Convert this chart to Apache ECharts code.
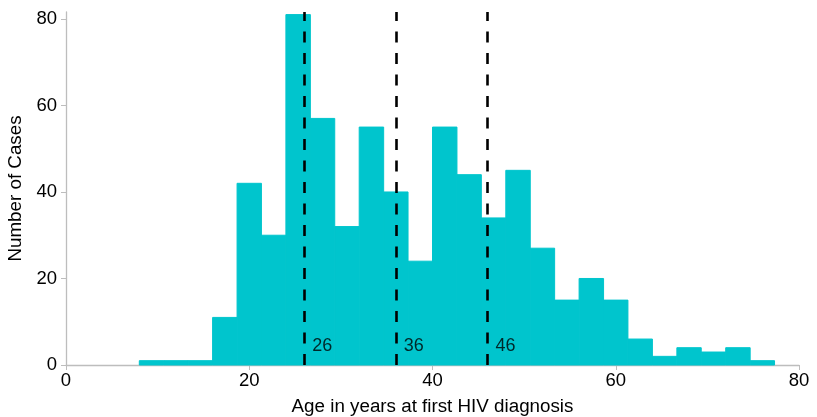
<!DOCTYPE html>
<html>
<head>
<meta charset="utf-8">
<script src="https://cdn.jsdelivr.net/npm/echarts@6/dist/echarts.min.js"></script>
<style>
html,body{margin:0;padding:0;background:#fff;}
#main{width:817px;height:417px;}
</style>
</head>
<body>
<div id="main"></div>
<script>
// Histogram bin edges (age in years) and counts per bin
var binEdges = [8, 10.67, 13.33, 16, 18.67, 21.33, 24, 26.67, 29.33, 32, 34.67, 37.33, 40, 42.67, 45.33, 48, 50.67, 53.33, 56, 58.67, 61.33, 64, 66.67, 69.33, 72, 74.67, 77.33];
var counts = [1, 1, 1, 11, 42, 30, 81, 57, 32, 55, 40, 24, 55, 44, 34, 45, 27, 15, 20, 15, 6, 2, 4, 3, 4, 1];
// Reference lines (ages)
var refLines = [26, 36, 46];
var refLabels = ['26', '36', '46'];
var refLabelY = 4.5;
var xTicks = [0, 20, 40, 60, 80];
var yTicks = [0, 20, 40, 60, 80];

var barData = counts.map(function (c, i) { return [binEdges[i], binEdges[i + 1], c]; });

var chart = echarts.init(document.getElementById('main'));
var font = '"Liberation Sans", Arial, sans-serif';
var axisGray = '#bdbdbd';
chart.setOption({
  animation: false,
  grid: { left: 66, right: 18, top: 12, bottom: 52, containLabel: false, outerBoundsMode: 'none' },
  xAxis: {
    type: 'value', min: 0, max: 80, interval: 20,
    name: 'Age in years at first HIV diagnosis',
    nameLocation: 'middle', nameGap: 32,
    nameTextStyle: { fontFamily: font, fontSize: 18.8, color: '#000' },
    axisLine: { show: true, onZero: false, lineStyle: { color: axisGray, width: 1.3 } },
    axisTick: { show: true, length: 5, lineStyle: { color: axisGray } },
    axisLabel: { fontFamily: font, fontSize: 18.5, color: '#000', margin: 6 },
    splitLine: { show: false }
  },
  yAxis: {
    type: 'value', min: 0, max: 81.6,
    name: 'Number of Cases',
    nameLocation: 'middle', nameGap: 36, nameRotate: 90,
    nameTextStyle: { fontFamily: font, fontSize: 18.8, color: '#000' },
    axisLine: { show: true, lineStyle: { color: axisGray, width: 1.3 } },
    axisTick: { show: true, length: 5, customValues: yTicks, lineStyle: { color: axisGray } },
    axisLabel: { fontFamily: font, fontSize: 18.5, color: '#000', margin: 9, customValues: yTicks },
    splitLine: { show: false }
  },
  series: [
    {
      type: 'custom',
      data: barData,
      encode: { x: [0, 1], y: 2 },
      renderItem: function (params, api) {
        var p0 = api.coord([api.value(0), 0]);
        var p1 = api.coord([api.value(1), api.value(2)]);
        return {
          type: 'rect',
          shape: { x: p0[0], y: p1[1], width: p1[0] - p0[0], height: p0[1] - p1[1] },
          style: { fill: '#00C5CD', stroke: '#00C5CD', lineWidth: 1 }
        };
      },
      z: 2
    },
    {
      type: 'scatter',
      data: refLines.map(function (v, i) { return { value: [v, refLabelY], name: refLabels[i] }; }),
      symbolSize: 0,
      silent: true,
      label: {
        show: true, position: 'right', distance: 8,
        formatter: function (p) { return p.name; },
        fontFamily: font, fontSize: 18, color: '#000'
      },
      markLine: {
        silent: true,
        symbol: ['none', 'none'],
        label: { show: false },
        lineStyle: { color: '#000', width: 2.6, type: [11, 10.5] },
        data: refLines.map(function (v) { return { xAxis: v }; })
      },
      z: 5
    }
  ]
});
</script>
</body>
</html>
